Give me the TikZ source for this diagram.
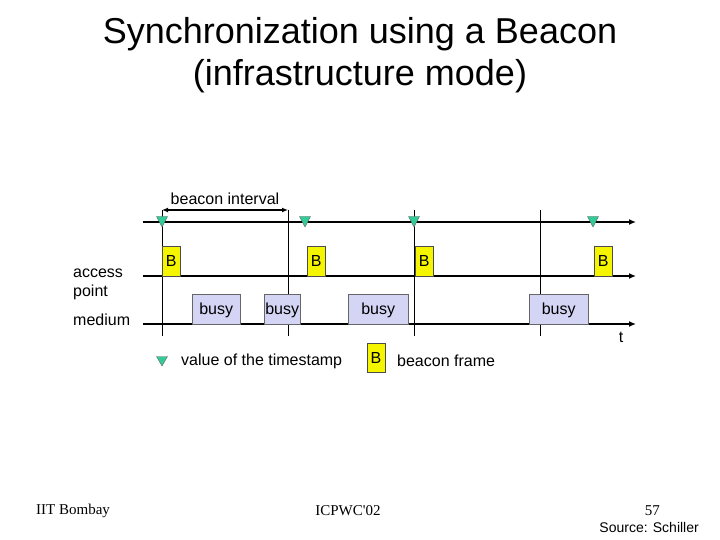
\documentclass[tikz,border=0pt]{standalone}
\usepackage{fontspec}
\setmainfont{Liberation Sans}
\newfontfamily\footserif{Liberation Serif}
\usetikzlibrary{arrows.meta, positioning}
\definecolor{stampTeal}{HTML}{33CC99}
\definecolor{beaconYellow}{HTML}{F5F500}
\definecolor{busyLavender}{HTML}{D4D4F4}

\begin{document}
\begin{tikzpicture}[x=1pt, y=-1pt,
    axis/.style={line width=1.8pt, -{Latex[length=7pt, width=6pt]}},
    tickline/.style={line width=0.7pt},
    interval/.style={line width=1.4pt, {Latex[length=6pt, width=5pt]}-{Latex[length=6pt, width=5pt]}},
    bframe/.style={rectangle, draw=black!70, fill=beaconYellow, minimum width=18pt, minimum height=30pt,
      inner sep=0pt, font=\fontsize{16}{18}\selectfont},
    busybox/.style={rectangle, draw=black!60, fill=busyLavender, minimum height=30pt,
      inner sep=0pt, text depth=1pt, font=\fontsize{16}{18}\selectfont},
    stamp/.style={fill=stampTeal, draw=black!60, line width=0.4pt},
    lbl/.style={font=\fontsize{16}{19}\selectfont, inner sep=0pt}
  ]
  \useasboundingbox (0,0) rectangle (720,540);
  \node[font=\fontsize{36}{42}\selectfont, align=center] (title) at (360,55)
    {Synchronization using a Beacon\\(infrastructure mode)};
  % time axes
  \foreach \n/\y in {ts/222, ap/276, md/324} {
    \coordinate (\n0) at (143,\y);
    \coordinate (\n1) at (636,\y);
    \draw[axis] (\n0) -- (\n1);
  }
  % beacon interval marks
  \foreach \i/\x in {0/162, 1/288, 2/414, 3/540} {
    \coordinate (v\i t) at (\x,210);
    \coordinate (v\i b) at (\x,336);
    \draw[tickline] (v\i t) -- (v\i b);
  }
  \draw[interval] (v0t) -- (v1t)
    node[lbl, midway, above=5pt] (bint) {beacon interval};
  % beacon frames
  \foreach \i/\x in {0/162, 1/307, 2/415, 3/594} {
    \node[bframe, anchor=south west] (b\i) at (\x,276) {B};
  }
  % busy medium
  \foreach \i/\x/\w in {0/192/48, 1/264/36, 2/348/60, 3/529/59} {
    \node[busybox, minimum width=\w pt, anchor=south west] (busy\i) at (\x,324) {busy};
  }
  % timestamps
  \foreach \x in {162, 305, 414, 593} {
    \filldraw[stamp] ({\x-5.5},216.5) -- ({\x+5.5},216.5) -- (\x,227) -- cycle;
  }
  \node[lbl, align=left, anchor=west] (aplbl) at (73,284) {access\\point};
  \node[lbl, anchor=west] (mdlbl) at (73,320) {medium};
  \node[lbl] (tlbl) at (621,337) {t};
  % legend
  \filldraw[stamp] (156.5,356.5) -- (167.5,356.5) -- (162,366) -- cycle;
  \node[lbl, anchor=west] (lgts) at (181,361) {value of the timestamp};
  \node[bframe, minimum height=29pt] (lgb) at (376,357.5) {B};
  \node[lbl, anchor=west] (lgbf) at (397,361) {beacon frame};
  % footer
  \node[font=\footserif\fontsize{15}{17}\selectfont, anchor=west, inner sep=0pt] (org) at (36,511) {IIT Bombay};
  \node[font=\footserif\fontsize{15}{17}\selectfont, inner sep=0pt] (conf) at (348,511) {ICPWC'02};
  \node[font=\footserif\fontsize{15}{17}\selectfont, anchor=east, inner sep=0pt] (pg) at (660,511) {57};
  \node[font=\fontsize{14}{16}\selectfont, anchor=east, inner sep=0pt] (src) at (699,527) {Source: Schiller};
\end{tikzpicture}
\end{document}
